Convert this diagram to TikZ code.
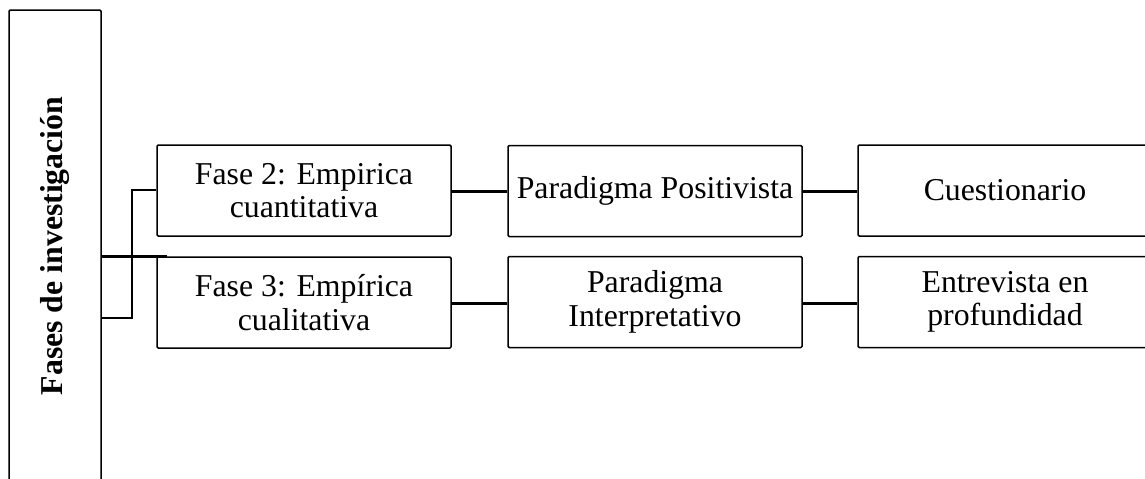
\documentclass[tikz,border=0pt]{standalone}
\usepackage{fontspec}
\setmainfont{Liberation Serif}
\begin{document}
\begin{tikzpicture}[x=0.5pt,y=-0.5pt,
  box/.style={draw, line width=0.75pt, rounded corners=0.6pt, inner sep=2pt,
    minimum width=147pt, minimum height=45.5pt, align=center,
    font=\fontsize{15.9}{16.8}\selectfont},
  sidebox/.style={draw, line width=0.75pt, rounded corners=0.6pt,
    minimum width=46pt, minimum height=236pt, inner sep=0pt},
  thin/.style={line width=0.75pt},
  thick link/.style={line width=1.5pt}]
\useasboundingbox (0,0) rectangle (1145,478);
\clip (0,0) rectangle (1145,478);

% left column with the rotated title
\node[sidebox] (L) at (55,246) {};
\node[rotate=90, font=\fontsize{15.9}{16.8}\selectfont\bfseries] (Lt) at (55,246) {Fases de investigación};

% first row
\node[box] (B1) at (304,190.5) {Fase 2: Empirica\\cuantitativa};
\node[box] (P1) at (655,191) {Paradigma Positivista};
\node[box] (C1) at (1005,190.5) {Cuestionario};

% second row
\node[box] (B2) at (304,302.5) {Fase 3: Empírica\\cualitativa};
\node[box] (P2) at (655,302) {Paradigma\\Interpretativo};
\node[box] (C2) at (1005,302) {Entrevista en\\profundidad};

% links between the rows' boxes
\draw[thick link] (B1.east |- 0,191) -- (P1.west |- 0,191);
\draw[thick link] (P1.east |- 0,191) -- (C1.west |- 0,191);
\draw[thick link] (B2.east |- 0,303) -- (P2.west |- 0,303);
\draw[thick link] (P2.east |- 0,303) -- (C2.west |- 0,303);

% branches from the left column
\coordinate (J) at (167,256);
\draw[thick link] (L.east |- J) -- (J);
\draw[thin] (L.east |- 0,318) -- (132,318) -- (132,190) -- (B1.west |- 0,190);
\end{tikzpicture}
\end{document}
